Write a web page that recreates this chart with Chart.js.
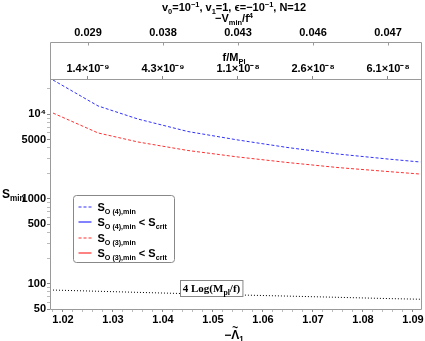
<!DOCTYPE html>
<html>
<head>
<meta charset="utf-8">
<script src="https://cdn.jsdelivr.net/npm/chart.js@4.4.1/dist/chart.umd.min.js"></script>
<style>
  html, body { margin: 0; padding: 0; background: #fff; }
  #wrap { position: relative; width: 425px; height: 341px; }
</style>
</head>
<body>
<div id="wrap"><canvas id="chart"></canvas></div>
<script>
'use strict';

/* 1. DATA */
const LAMBDA    = [1.018, 1.027, 1.035, 1.045, 1.055, 1.065, 1.075, 1.085, 1.0915];
const S_O4      = [25300, 12500, 8750, 6230, 4950, 4030, 3380, 2950, 2720];
const S_O3      = [10300, 6000, 4690, 3720, 3120, 2680, 2340, 2100, 1960];
const LOG_BOUND = [83.7, 81.0, 78.6, 75.8, 73.3, 71.0, 68.7, 66.4, 65.2];

const X_TICKS   = [1.02, 1.03, 1.04, 1.05, 1.06, 1.07, 1.08, 1.09];
const Y_MAJOR   = [50, 100, 500, 1000, 5000, 10000];
const Y_LABELS  = ['50', '100', '500', '1000', '5000', '10⁴'];
const Y_MINOR   = [60, 70, 80, 90, 200, 300, 400, 600, 700, 800, 900,
                   2000, 3000, 4000, 6000, 7000, 8000, 9000, 20000];
const TOP_TICKS = [1.025, 1.04, 1.055, 1.07, 1.085];
const V_LABELS  = ['0.029', '0.038', '0.043', '0.046', '0.047'];
const F_LABELS  = ['1.4×10⁻⁹', '4.3×10⁻⁹', '1.1×10⁻⁸', '2.6×10⁻⁸', '6.1×10⁻⁸'];

const LEGEND        = ['S_{O (4),min}', 'S_{O (4),min} < S_{crit}', 'S_{O (3),min}', 'S_{O (3),min} < S_{crit}'];
const LEGEND_COLORS = ['#3030ff', '#3030ff', '#ff3030', '#ff3030'];
const LEGEND_DASH   = [[3, 2], [], [3, 2], []];

const X_MIN = 1.0174, X_MAX = 1.0918;
const Y_MIN = 50, Y_MAX = 26000;

const SANS  = '"Liberation Sans", Arial, sans-serif';
const SERIF = '"Liberation Serif", "Times New Roman", serif';
const FRAME = '#9a9a9a';

/* 2. HELPERS */
function pts(ys) {
  return LAMBDA.map((x, i) => ({ x: x, y: ys[i] }));
}

// very small markup: _{sub} and ^{sup}
function richParts(str) {
  const parts = [];
  const re = /([_^])\{([^}]*)\}/g;
  let last = 0, m;
  while ((m = re.exec(str))) {
    if (m.index > last) parts.push({ t: str.slice(last, m.index), k: '' });
    parts.push({ t: m[2], k: m[1] });
    last = re.lastIndex;
  }
  if (last < str.length) parts.push({ t: str.slice(last), k: '' });
  return parts;
}

function drawRich(ctx, str, x, y, size, align, family, ratio) {
  const parts = richParts(str);
  const small = size * (ratio || 0.68);
  const fontFor = p => 'bold ' + (p.k ? small : size) + 'px ' + family;
  let w = 0;
  parts.forEach(p => { ctx.font = fontFor(p); p.w = ctx.measureText(p.t).width; w += p.w; });
  let cx = align === 'center' ? x - w / 2 : align === 'right' ? x - w : x;
  ctx.textAlign = 'left';
  ctx.textBaseline = 'alphabetic';
  parts.forEach(p => {
    ctx.font = fontFor(p);
    const dy = p.k === '_' ? size * 0.28 : p.k === '^' ? -size * 0.38 : 0;
    ctx.fillText(p.t, cx, y + dy);
    cx += p.w;
  });
  return w;
}

function majorMinorX() {
  const ticks = X_TICKS.map(v => ({ value: v, major: true }));
  for (let v = 1.018; v < X_MAX; v += 0.002) {
    const r = Math.round(v * 1000) / 1000;
    if (!X_TICKS.some(t => Math.abs(t - r) < 1e-6)) ticks.push({ value: r, major: false });
  }
  return ticks.sort((a, b) => a.value - b.value);
}

/* 3. PLUGIN: frame, titles, legend, annotation */
const decorPlugin = {
  id: 'decor',
  afterDraw(chart) {
    const { ctx, chartArea: a, scales } = chart;
    const outer = scales.xTop2;
    const frameTop = Math.round(outer.bottom) + 0.5;
    const L = Math.round(a.left) + 0.5, R = Math.round(a.right) - 0.5;
    const B = Math.round(a.bottom) + 0.5, T = Math.round(a.top) + 0.5;
    const cx = (a.left + a.right) / 2 - 2;

    ctx.save();
    ctx.strokeStyle = FRAME;
    ctx.lineWidth = 1;
    ctx.beginPath();
    ctx.rect(L, frameTop, R - L, B - frameTop);
    ctx.moveTo(L, T); ctx.lineTo(R, T);
    // outer top ticks point down into the box
    TOP_TICKS.forEach(v => {
      const px = Math.round(outer.getPixelForValue(v)) + 0.5;
      ctx.moveTo(px, frameTop); ctx.lineTo(px, frameTop + 3);
    });
    ctx.stroke();

    ctx.fillStyle = '#000';
    drawRich(ctx, 'v_{0}=10^{−1}, v_{1}=1, ϵ=−10^{−1}, N=12', cx, 11, 11, 'center', SANS);
    drawRich(ctx, '−V_{min}/f^{4}', cx, 22, 11, 'center', SANS);
    drawRich(ctx, 'f/M_{Pl}', cx, 61, 11, 'center', SANS);
    drawRich(ctx, 'S_{min}', 2, 198, 12, 'left', SANS);

    // x title  −Λ̃₁
    ctx.font = 'bold 12px ' + SANS;
    const wMinus = ctx.measureText('−').width;
    const wLam = ctx.measureText('Λ').width;
    const w1 = drawRich(ctx, '−Λ_{1}', cx, 339, 12, 'center', SANS);
    const lamX = cx - w1 / 2 + wMinus + wLam / 2;
    ctx.font = 'bold 10px ' + SANS;
    ctx.textAlign = 'center';
    ctx.fillText('~', lamX, 331);

    // annotation for the bound line
    const ax = scales.x.getPixelForValue(1.0497);
    const ay = scales.y.getPixelForValue(88);
    const tw = drawRich(ctx, '4 Log(M_{pl}/f)', -1000, -1000, 11, 'left', SERIF, 0.7);
    const bw = tw + 5, bh = 16;
    const bx = Math.round(ax - bw / 2) + 0.5, by = Math.round(ay - bh / 2) + 0.5;
    ctx.fillStyle = '#fff';
    ctx.fillRect(bx, by, bw, bh);
    ctx.strokeStyle = '#888';
    ctx.strokeRect(bx, by, bw, bh);
    ctx.fillStyle = '#000';
    drawRich(ctx, '4 Log(M_{pl}/f)', ax, by + 11, 11, 'center', SERIF, 0.7);

    // legend box
    const lx = Math.round(a.left) + 23.5, ly = Math.round(a.top) + 116.5;
    const lw = 101, lh = 67;
    ctx.beginPath();
    ctx.roundRect(lx, ly, lw, lh, 3);
    ctx.fillStyle = '#fff';
    ctx.fill();
    ctx.strokeStyle = '#888';
    ctx.stroke();
    LEGEND.forEach((txt, i) => {
      const y = Math.round(ly + 11 + i * 15.5);
      ctx.save();
      ctx.strokeStyle = LEGEND_COLORS[i];
      ctx.lineWidth = 1.2;
      ctx.setLineDash(LEGEND_DASH[i]);
      ctx.beginPath();
      ctx.moveTo(lx + 5, y);
      ctx.lineTo(lx + 18, y);
      ctx.stroke();
      ctx.restore();
      ctx.fillStyle = '#000';
      drawRich(ctx, txt, lx + 24, y + 4, 11, 'left', SANS, 0.65);
    });
    ctx.restore();
  }
};

/* 4. CHART */
const tickFont = { family: SANS, size: 11, weight: 'bold' };

new Chart(document.getElementById('chart'), {
  type: 'line',
  data: {
    datasets: [
      { label: 'S_O(4),min', data: pts(S_O4), borderColor: LEGEND_COLORS[0], borderWidth: 1, borderDash: LEGEND_DASH[0] },
      { label: 'S_O(4),min < S_crit', data: [], borderColor: LEGEND_COLORS[1], borderWidth: 1 },
      { label: 'S_O(3),min', data: pts(S_O3), borderColor: LEGEND_COLORS[2], borderWidth: 1, borderDash: LEGEND_DASH[2] },
      { label: 'S_O(3),min < S_crit', data: [], borderColor: LEGEND_COLORS[3], borderWidth: 1 },
      { label: '4 Log(M_pl/f)', data: pts(LOG_BOUND), borderColor: '#000', borderWidth: 1, borderDash: [1, 2] }
    ]
  },
  options: {
    responsive: true,
    maintainAspectRatio: false,
    animation: false,
    layout: { padding: { left: 0, right: 3, top: 0, bottom: 0 } },
    elements: { point: { radius: 0 }, line: { tension: 0 } },
    plugins: { legend: { display: false }, tooltip: { enabled: false } },
    scales: {
      x: {
        type: 'linear', position: 'bottom', min: X_MIN, max: X_MAX,
        afterBuildTicks: s => { s.ticks = majorMinorX(); },
        afterFit: s => { s.height = 32; },
        ticks: {
          autoSkip: false, maxRotation: 0, padding: 1, color: '#000', font: tickFont,
          callback: (v, i, t) => t[i].major ? v.toFixed(2) : ''
        },
        grid: { drawOnChartArea: false, tickLength: 3, tickColor: c => c.tick && c.tick.major ? '#888' : '#bbb' },
        border: { display: false }
      },
      xTop: {
        type: 'linear', position: 'top', weight: 0, min: X_MIN, max: X_MAX,
        afterBuildTicks: s => { s.ticks = TOP_TICKS.map(v => ({ value: v })); },
        afterFit: s => { s.height = 37; },
        ticks: {
          autoSkip: false, maxRotation: 0, padding: 0, color: '#000', font: tickFont,
          callback: (v, i) => F_LABELS[i]
        },
        grid: { drawOnChartArea: false, tickLength: 3, tickColor: '#888' },
        border: { display: false }
      },
      xTop2: {
        type: 'linear', position: 'top', weight: 1, min: X_MIN, max: X_MAX,
        afterBuildTicks: s => { s.ticks = TOP_TICKS.map(v => ({ value: v })); },
        afterFit: s => { s.height = 42; },
        ticks: {
          autoSkip: false, maxRotation: 0, padding: 2, color: '#000', font: tickFont,
          callback: (v, i) => V_LABELS[i]
        },
        grid: { drawOnChartArea: false, drawTicks: false },
        border: { display: false }
      },
      y: {
        type: 'logarithmic', position: 'left', min: Y_MIN, max: Y_MAX,
        afterBuildTicks: s => {
          s.ticks = Y_MAJOR.map(v => ({ value: v, major: true }))
            .concat(Y_MINOR.map(v => ({ value: v, major: false })))
            .sort((a, b) => a.value - b.value);
        },
        afterFit: s => { s.width = 50; },
        ticks: {
          autoSkip: false, padding: 1, color: '#000', font: tickFont,
          callback: (v, i, t) => t[i].major ? Y_LABELS[Y_MAJOR.indexOf(v)] : ''
        },
        grid: { drawOnChartArea: false, tickLength: 3, tickColor: c => c.tick && c.tick.major ? '#888' : '#bbb' },
        border: { display: false }
      }
    }
  },
  plugins: [decorPlugin]
});
</script>
</body>
</html>
